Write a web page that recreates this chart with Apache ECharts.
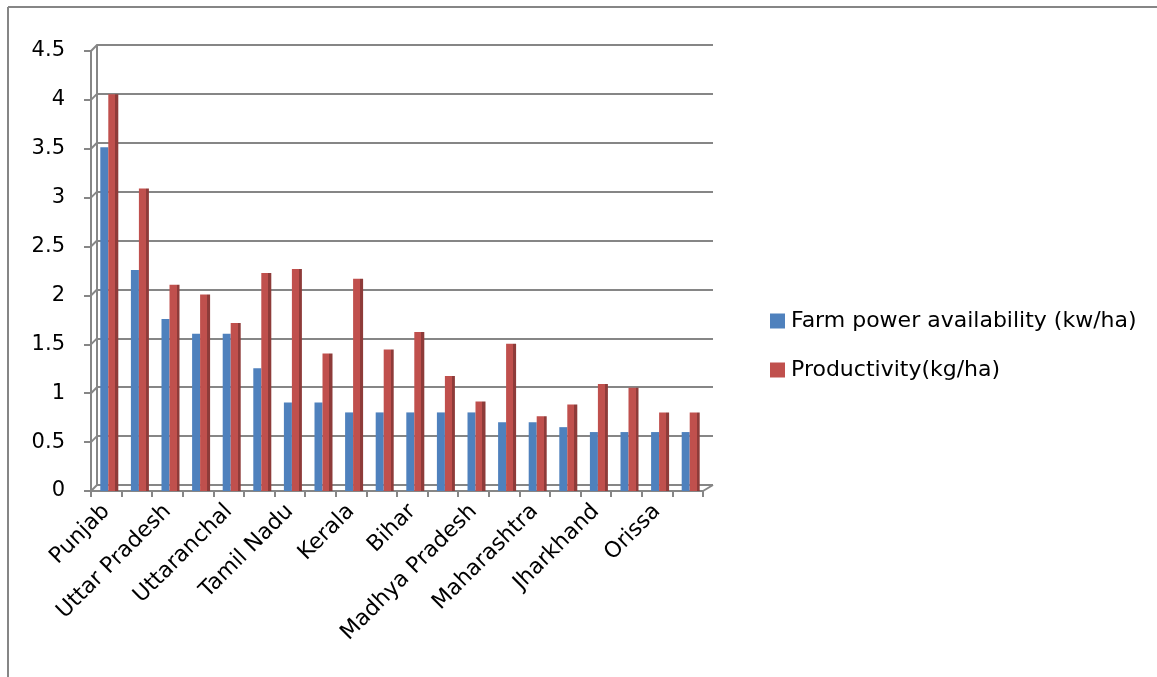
<!DOCTYPE html>
<html>
<head>
<meta charset="utf-8">
<script src="https://cdn.jsdelivr.net/npm/echarts@6/dist/echarts.min.js"></script>
<style>
html,body{margin:0;padding:0;background:#fff;}
#c{width:1157px;height:677px;}
</style>
</head>
<body>
<div id="c"></div>
<script>
var categories = ['Punjab','Haryana','Uttar Pradesh','Andhra Pradesh','Uttaranchal','West Bengal','Tamil Nadu','Gujarat','Kerala','Karnataka','Bihar','Rajasthan','Madhya Pradesh','Himachal Pradesh','Maharashtra','Assam','Jharkhand','Chhattisgarh','Orissa','Others'];
var farmPower = [3.5,2.25,1.75,1.6,1.6,1.25,0.9,0.9,0.8,0.8,0.8,0.8,0.8,0.7,0.7,0.65,0.6,0.6,0.6,0.6];
var productivity = [4.04,3.08,2.1,2.0,1.71,2.22,2.26,1.4,2.16,1.44,1.62,1.17,0.91,1.5,0.76,0.88,1.09,1.05,0.8,0.8];
var seriesNames = ['Farm power availability (kw/ha)','Productivity(kg/ha)'];
var yTicks = {min:0,max:4.5,interval:0.5};

var FONT = '"DejaVu Sans", sans-serif';
var GRAY = '#868686';
var BLUE = '#4F81BD', RED = '#C0504D', RED_SIDE = '#8E3B39';
var chart = echarts.init(document.getElementById('c'));
var option = {
  animation:false,
  backgroundColor:'#fff',
  textStyle:{fontFamily:FONT},
  grid:[
    {left:91, top:51, width:612, height:440},
    {left:97, top:45, width:616, height:440},
    {left:94, top:49, width:612, height:442}
  ],
  xAxis:[
    {gridIndex:0,type:'category',data:categories,boundaryGap:true,
     axisLine:{lineStyle:{color:GRAY,width:2}},
     axisTick:{show:true,length:6,interval:0,lineStyle:{color:GRAY,width:2}},
     axisLabel:{interval:1,rotate:45,color:'#000',fontSize:22,fontFamily:FONT,margin:17}},
    {gridIndex:1,type:'category',data:categories,show:false},
    {gridIndex:2,type:'category',data:categories,show:false}
  ],
  yAxis:[
    {gridIndex:0,type:'value',min:yTicks.min,max:yTicks.max,interval:yTicks.interval,
     axisLine:{show:true,lineStyle:{color:GRAY,width:2}},
     axisTick:{show:true,length:7,lineStyle:{color:GRAY,width:2}},
     splitLine:{show:false},
     axisLabel:{color:'#000',fontSize:21,fontFamily:FONT,margin:26}},
    {gridIndex:1,type:'value',min:yTicks.min,max:yTicks.max,interval:yTicks.interval,
     axisLine:{show:true,lineStyle:{color:GRAY,width:2}},
     axisTick:{show:false},axisLabel:{show:false},
     splitLine:{show:true,lineStyle:{color:GRAY,width:2}}},
    {gridIndex:2,type:'value',min:yTicks.min,max:yTicks.max,interval:yTicks.interval,show:false,splitLine:{show:false}}
  ],
  legend:{
    orient:'vertical',left:765,top:305,itemWidth:15,itemHeight:15,itemGap:27,
    icon:'rect',
    textStyle:{fontSize:22,color:'#000',fontFamily:FONT,padding:[0,0,0,1]},
    data:[{name:seriesNames[0],itemStyle:{color:BLUE}},{name:seriesNames[1],itemStyle:{color:RED}}]
  },
  series:[
    {name:seriesNames[0],type:'bar',xAxisIndex:2,yAxisIndex:2,data:farmPower,barWidth:8,barGap:'0%',
     itemStyle:{color:BLUE}},
    {name:seriesNames[1],type:'bar',xAxisIndex:2,yAxisIndex:2,data:productivity,barWidth:10,barGap:'0%',
     itemStyle:{color:new echarts.graphic.LinearGradient(0,0,1,0,[
       {offset:0,color:RED},{offset:0.7,color:RED},
       {offset:0.7,color:RED_SIDE},{offset:1,color:RED_SIDE}])}}
  ]
};
chart.setOption(option);
// decorative frame and 3D connectors
var g = [];
g.push({type:'line',shape:{x1:8,y1:7,x2:1157,y2:7},style:{stroke:GRAY,lineWidth:2}});
g.push({type:'line',shape:{x1:8,y1:7,x2:8,y2:677},style:{stroke:GRAY,lineWidth:2}});
for (var v = yTicks.min; v <= yTicks.max + 1e-9; v += yTicks.interval) {
  var p0 = chart.convertToPixel({gridIndex:0},[0,v]);
  var p1 = chart.convertToPixel({gridIndex:1},[0,v]);
  g.push({type:'line',shape:{x1:91,y1:p0[1],x2:97,y2:p1[1]},style:{stroke:GRAY,lineWidth:2}});
}
var pr0 = chart.convertToPixel({gridIndex:0},[0,0]);
var pr1 = chart.convertToPixel({gridIndex:1},[0,0]);
g.push({type:'line',shape:{x1:703,y1:pr0[1],x2:713,y2:pr1[1]},style:{stroke:GRAY,lineWidth:2}});
chart.setOption({graphic:g});
</script>
</body>
</html>
